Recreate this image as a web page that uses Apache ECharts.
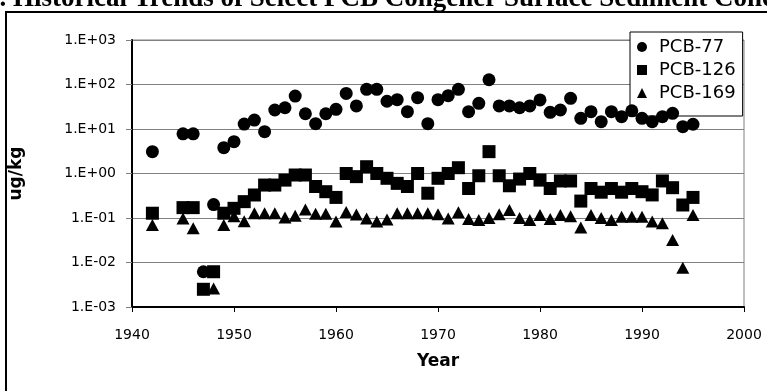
<html>
<head>
<meta charset="utf-8">
<script src="https://cdn.jsdelivr.net/npm/echarts@6/dist/echarts.min.js"></script>
</head>
<body style="margin:0;background:#fff">
<div id="main" style="width:767px;height:391px;"></div>
<script type="text/javascript">
// sample years (x) and congener concentrations in ug/kg (null = no point)
var years = [1942, 1945, 1946, 1947, 1948, 1949, 1950, 1951, 1952, 1953, 1954, 1955, 1956, 1957, 1958, 1959,
    1960, 1961, 1962, 1963, 1964, 1965, 1966, 1967, 1968, 1969, 1970, 1971, 1972, 1973, 1974, 1975, 1976, 1977,
    1978, 1979, 1980, 1981, 1982, 1983, 1984, 1985, 1986, 1987, 1988, 1989, 1990, 1991, 1992, 1993, 1994, 1995];

var pcb77 = [3.1, 7.8, 7.8, 0.0062, 0.2, 3.8, 5.2, 12.9, 15.9, 8.7, 26.7, 30, 55, 22, 13.2, 22,
    27.7, 63, 33, 78, 78, 42, 45.6, 24.5, 50.5, 13.2, 45.6, 56, 78, 24.5, 37.8, 128, 33, 33,
    30, 33, 45, 23.7, 26.7, 49, 17.4, 24.5, 14.6, 24.5, 18.9, 25.6, 17.4, 14.6, 18.9, 22.5, 11.3, 12.8];

var pcb126 = [0.128, 0.171, 0.171, 0.0025, 0.0062, 0.128, 0.165, 0.233, 0.329, 0.55, 0.55, 0.71, 0.925, 0.925, 0.51, 0.39,
    0.29, 1.0, 0.85, 1.42, 1.0, 0.78, 0.6, 0.51, 1.0, 0.36, 0.78, 1.0, 1.35, 0.46, 0.89, 3.1, 0.89, 0.53,
    0.75, 1.0, 0.71, 0.46, 0.68, 0.68, 0.24, 0.46, 0.38, 0.46, 0.38, 0.46, 0.39, 0.33, 0.68, 0.48, 0.196, 0.29];

var pcb169 = [0.070, 0.098, 0.059, null, 0.0026, 0.070, 0.11, 0.085, 0.128, 0.128, 0.128, 0.102, 0.112, 0.155, 0.125, 0.125,
    0.083, 0.136, 0.12, 0.098, 0.083, 0.093, 0.128, 0.128, 0.128, 0.128, 0.121, 0.098, 0.134, 0.095, 0.090, 0.10, 0.121, 0.151,
    0.10, 0.090, 0.117, 0.095, 0.117, 0.11, 0.061, 0.117, 0.10, 0.09, 0.107, 0.107, 0.107, 0.083, 0.076, 0.032, 0.0076, 0.117];

var yTickMin = 0.001, yTickMax = 1000;

function pairs(vals) {
    var out = [];
    for (var i = 0; i < years.length; i++) {
        if (vals[i] != null) out.push([years[i], vals[i]]);
    }
    return out;
}

// 1.E+03 style labels like the spreadsheet
function sciLabel(v) {
    var e = Math.round(Math.log(v) / Math.LN10);
    var a = Math.abs(e);
    return '1.E' + (e < 0 ? '-' : '+') + (a < 10 ? '0' : '') + a;
}

var sans = 'DejaVu Sans';
var myChart = echarts.init(document.getElementById('main'));

myChart.setOption({
    backgroundColor: '#fff',
    animation: false,
    graphic: [
        {
            type: 'rect',
            shape: { x: 6, y: 12, width: 900, height: 500 },
            style: { fill: 'none', stroke: '#000', lineWidth: 2 },
            z: 0
        },
        {
            type: 'text',
            x: -14, y: 13,
            style: {
                text: '1. Historical Trends of Select PCB Congener Surface Sediment Concentrations',
                font: 'bold 27px "Liberation Serif"',
                fill: '#000',
                textVerticalAlign: 'bottom'
            }
        }
    ],
    grid: {
        left: 126, right: 23, top: 40, bottom: 84,
        show: true, borderColor: '#808080', borderWidth: 1, backgroundColor: 'transparent'
    },
    legend: {
        orient: 'vertical',
        left: 630, top: 32,
        z: 1,
        backgroundColor: '#fff',
        borderColor: '#000', borderWidth: 1, borderRadius: 0,
        padding: [6, 7, 14, 7],
        itemWidth: 10, itemHeight: 10, itemGap: 5,
        textStyle: { fontFamily: sans, fontSize: 18, color: '#000', lineHeight: 18, padding: [0, 0, 0, 7] },
        data: ['PCB-77', 'PCB-126', 'PCB-169']
    },
    xAxis: {
        type: 'value',
        min: 1940, max: 2000, interval: 10,
        name: 'Year', nameLocation: 'middle', nameGap: 46,
        nameTextStyle: { fontFamily: sans, fontWeight: 'bold', fontSize: 17, color: '#000' },
        axisLine: { lineStyle: { color: '#000', width: 2 } },
        axisTick: { show: true, length: 5, lineStyle: { color: '#000' } },
        axisLabel: { margin: 21, fontFamily: sans, fontSize: 14, color: '#000', formatter: function (v) { return String(v); } },
        splitLine: { show: false }
    },
    yAxis: {
        type: 'log', logBase: 10,
        min: yTickMin, max: yTickMax, splitNumber: 6,
        name: 'ug/kg', nameLocation: 'middle', nameGap: 107, nameRotate: 90,
        nameTextStyle: { fontFamily: sans, fontWeight: 'bold', fontSize: 17, color: '#000' },
        axisLine: { show: true, lineStyle: { color: '#000', width: 2 } },
        axisTick: { show: true, length: 6, lineStyle: { color: '#808080' } },
        axisLabel: { margin: 16, fontFamily: sans, fontSize: 14, color: '#000', formatter: sciLabel },
        splitLine: { show: true, lineStyle: { color: '#808080', width: 1 } },
        minorTick: { show: false }
    },
    series: [
        {
            name: 'PCB-77', type: 'scatter', z: 3,
            symbol: 'circle', symbolSize: 13,
            itemStyle: { color: '#000', opacity: 1 },
            data: pairs(pcb77)
        },
        {
            name: 'PCB-126', type: 'scatter', z: 3,
            symbol: 'rect', symbolSize: 13,
            itemStyle: { color: '#000', opacity: 1 },
            data: pairs(pcb126)
        },
        {
            name: 'PCB-169', type: 'scatter', z: 3,
            symbol: 'triangle', symbolSize: [13, 12],
            itemStyle: { color: '#000', opacity: 1 },
            data: pairs(pcb169)
        }
    ]
});
</script>
</body>
</html>
